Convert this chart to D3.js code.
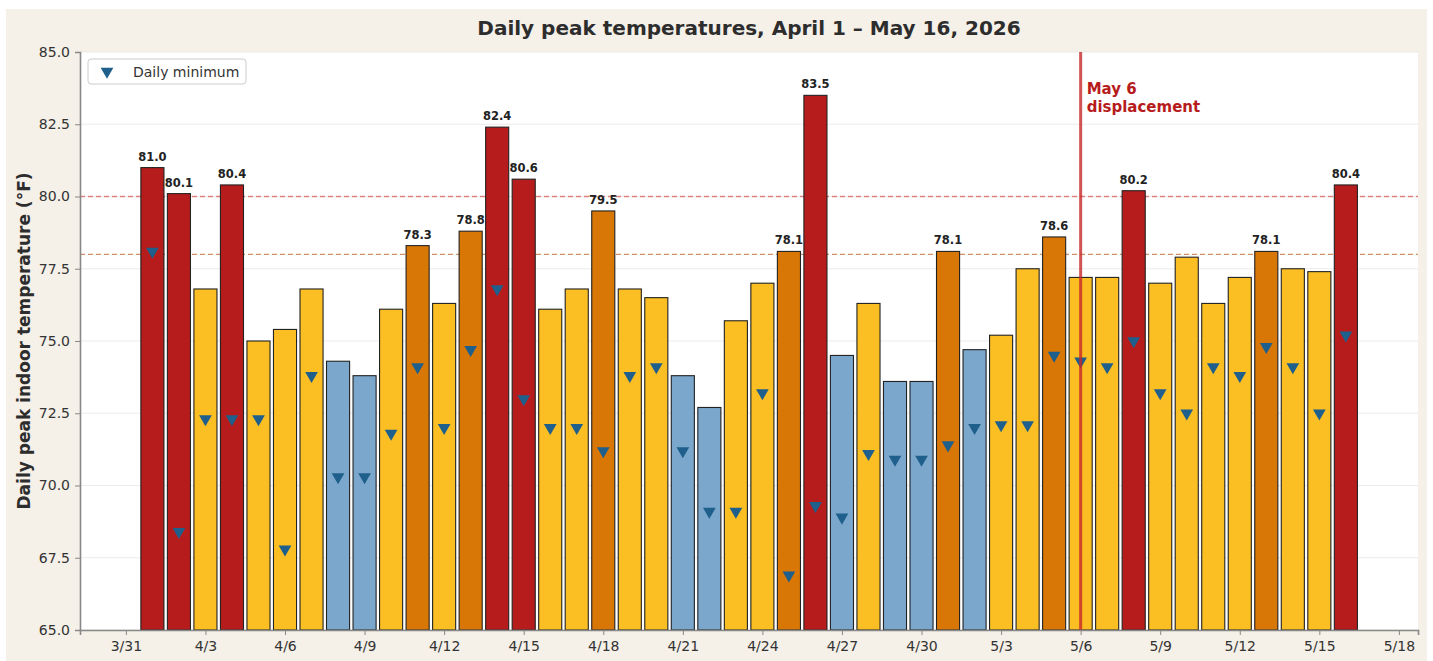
<!DOCTYPE html>
<html>
<head>
<meta charset="utf-8">
<script src="https://cdn.jsdelivr.net/npm/d3@7"></script>
<style>
  body { margin: 0; background: #fff; font-family: "DejaVu Sans", sans-serif; }
  .chart { display: block; }
  .axis text { font-family: "DejaVu Sans", sans-serif; font-size: 14px; fill: #333; }
  .axis path, .axis line { stroke: #888; }
</style>
</head>
<body>
<svg class="chart" width="1433" height="661"></svg>
<script>
// daily peak and daily minimum, April 1 - May 16 2026
const peaks = [81.0, 80.1, 76.8, 80.4, 75.0, 75.4, 76.8, 74.3, 73.8, 76.1,
               78.3, 76.3, 78.8, 82.4, 80.6, 76.1, 76.8, 79.5, 76.8, 76.5,
               73.8, 72.7, 75.7, 77.0, 78.1, 83.5, 74.5, 76.3, 73.6, 73.6,
               78.1, 74.7, 75.2, 77.5, 78.6, 77.2, 77.2, 80.2, 77.0, 77.9,
               76.3, 77.2, 78.1, 77.5, 77.4, 80.4]
const mins = [78.1, 68.4, 72.3, 72.3, 72.3, 67.8, 73.8, 70.3, 70.3, 71.8,
              74.1, 72.0, 74.7, 76.8, 73.0, 72.0, 72.0, 71.2, 73.8, 74.1,
              71.2, 69.1, 69.1, 73.2, 66.9, 69.3, 68.9, 71.1, 70.9, 70.9,
              71.4, 72.0, 72.1, 72.1, 74.5, 74.3, 74.1, 75.0, 73.2, 72.5,
              74.1, 73.8, 74.8, 74.1, 72.5, 75.2]
const days = d3.utcDay.range(new Date(Date.UTC(2026, 3, 1)), new Date(Date.UTC(2026, 4, 17)))
const tickDays = ["2026-03-31", "2026-04-03", "2026-04-06", "2026-04-09", "2026-04-12", "2026-04-15",
                  "2026-04-18", "2026-04-21", "2026-04-24", "2026-04-27", "2026-04-30", "2026-05-03",
                  "2026-05-06", "2026-05-09", "2026-05-12", "2026-05-15", "2026-05-18"]
const yTicks = [65.0, 67.5, 70.0, 72.5, 75.0, 77.5, 80.0, 82.5, 85.0]
const thresholds = [75, 78, 80],
      colors = ["#7ba7cc", "#fbbf24", "#d97706", "#b71c1c"]
const refLines = [80, 78],
      eventDay = "2026-05-06"

const data = peaks.map((p, i) => ({ day: days[i], peak: p, min: mins[i] }))

const svg = d3.select(".chart"),
      W = 1433, H = 661
const margin = { top: 52, right: 15, bottom: 31, left: 80 },
      width = W - margin.left - margin.right,
      height = H - margin.top - margin.bottom

// figure background
svg.append("rect").attr("x", 6).attr("y", 9).attr("width", 1421).attr("height", 652).attr("fill", "#f5f0e8")

const DAY = 864e5
const x = d3.scaleUtc().range([0, width])
  .domain([new Date(Date.UTC(2026, 2, 31) - 1.73 * DAY), new Date(Date.UTC(2026, 4, 18) + 0.72 * DAY)])
const y = d3.scaleLinear().range([height, 0]).domain([65, 85])
const color = d3.scaleThreshold().domain(thresholds).range(colors)
const bw = x(new Date(x.domain()[0].getTime() + 0.87 * DAY))

svg.append("text")
  .attr("x", 749).attr("y", 35)
  .attr("text-anchor", "middle")
  .style("font-size", "20px").style("font-weight", "bold").attr("fill", "#2d2d2d")
  .text("Daily peak temperatures, April 1 \u2013 May 16, 2026")

const g = svg.append("g").attr("transform", "translate(" + margin.left + "," + margin.top + ")")

g.append("rect").attr("width", width).attr("height", height).attr("fill", "#fff")

// grid
g.selectAll(".grid").data(yTicks).enter().append("line")
  .attr("x1", 0).attr("x2", width)
  .attr("y1", d => y(d)).attr("y2", d => y(d))
  .attr("stroke", "#ebebeb").attr("stroke-width", 1)

const ref = [{ v: refLines[0], c: "#d9534f" }, { v: refLines[1], c: "#c0622a" }]
g.selectAll(".ref").data(ref).enter().append("line")
  .attr("x1", 0).attr("x2", width)
  .attr("y1", d => y(d.v)).attr("y2", d => y(d.v))
  .attr("stroke", d => d.c).attr("stroke-opacity", 0.7)
  .attr("stroke-width", 1.3).attr("stroke-dasharray", "5,3")

g.selectAll(".bar").data(data).enter().append("rect")
  .attr("x", d => x(d.day) - bw / 2)
  .attr("y", d => y(d.peak))
  .attr("width", bw)
  .attr("height", d => height - y(d.peak))
  .attr("fill", d => color(d.peak))
  .attr("stroke", "#222").attr("stroke-width", 1.1)

g.selectAll(".lbl").data(data.filter(d => d.peak >= 78)).enter().append("text")
  .attr("x", d => x(d.day))
  .attr("y", d => y(d.peak) - 7)
  .attr("text-anchor", "middle")
  .style("font-size", "11.5px").style("font-weight", "bold").attr("fill", "#222")
  .text(d => d.peak.toFixed(1))

const tri = d3.symbol().type(d3.symbolTriangle).size(70)
g.selectAll(".min").data(data).enter().append("path")
  .attr("d", tri)
  .attr("transform", d => "translate(" + x(d.day) + "," + y(d.min) + ") rotate(180)")
  .attr("fill", "#1f5f8b")

// May 6 marker
const ev = new Date(eventDay + "T00:00:00Z")
g.append("line")
  .attr("x1", x(ev)).attr("x2", x(ev)).attr("y1", 0).attr("y2", height)
  .attr("stroke", "#c62828").attr("stroke-opacity", 0.8).attr("stroke-width", 3)
const ann = g.append("text")
  .attr("x", x(ev) + 6).attr("y", 42)
  .style("font-size", "15px").style("font-weight", "bold").attr("fill", "#b71c1c")
ann.append("tspan").attr("x", x(ev) + 6).text("May 6")
ann.append("tspan").attr("x", x(ev) + 6).attr("dy", "1.2em").text("displacement")

g.append("g")
  .attr("class", "axis")
  .attr("transform", "translate(0," + height + ")")
  .call(d3.axisBottom(x).tickValues(tickDays.map(s => new Date(s + "T00:00:00Z")))
        .tickSize(5).tickPadding(6).tickFormat(d3.utcFormat("%-m/%-d")))

g.append("g")
  .attr("class", "axis")
  .call(d3.axisLeft(y).tickValues(yTicks).tickSize(5).tickPadding(5).tickFormat(d3.format(".1f")))

g.selectAll(".axis .domain").attr("stroke-width", 1.6)

svg.append("text")
  .attr("transform", "rotate(-90)")
  .attr("x", -(margin.top + height / 2)).attr("y", 30)
  .attr("text-anchor", "middle")
  .style("font-size", "17px").style("font-weight", "bold").attr("fill", "#2d2d2d")
  .text("Daily peak indoor temperature (\u00b0F)")

// legend
const lg = g.append("g").attr("transform", "translate(8,7)")
lg.append("rect").attr("width", 158).attr("height", 25).attr("rx", 3)
  .attr("fill", "#fff").attr("stroke", "#ccc")
lg.append("path").attr("d", tri).attr("transform", "translate(19,12.5) rotate(180)").attr("fill", "#1f5f8b")
lg.append("text").attr("x", 45).attr("y", 17.5)
  .style("font-size", "14px").attr("fill", "#333").text("Daily minimum")
</script>
</body>
</html>
